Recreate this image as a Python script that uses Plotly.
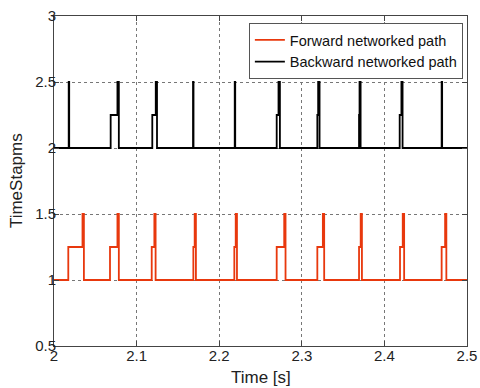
import plotly.graph_objects as go

# step points (time [s], timestamp value)
fwd_t = [2.0, 2.0173, 2.0345, 2.0362, 2.0678, 2.0768, 2.0785, 2.1183, 2.1215, 2.1230,
         2.1687, 2.1703, 2.1718, 2.2183, 2.2200, 2.2215, 2.2696, 2.2787, 2.2803,
         2.3188, 2.3255, 2.3271, 2.3693, 2.3713, 2.3728, 2.4189, 2.4222, 2.4239,
         2.4693, 2.4735, 2.4750, 2.5]
fwd_y = [1, 1.25, 1.5, 1, 1.25, 1.5, 1, 1.25, 1.5, 1,
         1.25, 1.5, 1, 1.25, 1.5, 1, 1.25, 1.5, 1,
         1.25, 1.5, 1, 1.25, 1.5, 1, 1.25, 1.5, 1,
         1.25, 1.5, 1, 1]

bwd_t = [2.0, 2.0178, 2.0184, 2.0686, 2.0768, 2.0785, 2.1190, 2.1232, 2.1247,
         2.1683, 2.1689, 2.2188, 2.2194, 2.2696, 2.2718, 2.2735, 2.3188, 2.3198, 2.3215,
         2.3693, 2.3699, 2.3712, 2.4185, 2.4206, 2.4220, 2.4693, 2.4699, 2.5]
bwd_y = [2, 2.5, 2, 2.25, 2.5, 2, 2.25, 2.5, 2,
         2.5, 2, 2.5, 2, 2.25, 2.5, 2, 2.25, 2.5, 2,
         2.25, 2.5, 2, 2.25, 2.5, 2, 2.5, 2, 2]

x_ticks = [2, 2.1, 2.2, 2.3, 2.4, 2.5]
y_ticks = [0.5, 1, 1.5, 2, 2.5, 3]

fig = go.Figure()
fig.add_trace(go.Scatter(x=fwd_t, y=fwd_y, mode='lines', line_shape='hv',
                         line=dict(color='#e8380d', width=1.8), name='Forward networked path'))
fig.add_trace(go.Scatter(x=bwd_t, y=bwd_y, mode='lines', line_shape='hv',
                         line=dict(color='black', width=1.8), name='Backward networked path'))

axis_common = dict(showline=True, mirror='ticks', linecolor='#444', linewidth=1,
                   ticks='inside', ticklen=5, tickcolor='#444',
                   showgrid=True, gridcolor='#777', griddash='dot', gridwidth=1,
                   zeroline=False, automargin=False, ticklabeloverflow='allow',
                   tickfont=dict(size=15, color='#222'))

fig.update_xaxes(range=[2, 2.5], tickvals=x_ticks, ticktext=[str(v) for v in x_ticks],
                 ticklabelstandoff=-4, **axis_common)
fig.update_yaxes(range=[0.5, 3], tickvals=y_ticks, ticktext=[f'{v:g}' for v in y_ticks],
                 ticklabelstandoff=-6, **axis_common)

# axis titles
fig.add_annotation(text='Time [s]', xref='paper', yref='paper', x=0.5, y=-0.062,
                   xanchor='center', yanchor='top', showarrow=False,
                   font=dict(size=17, color='#222'))
fig.add_annotation(text='TimeStapms', xref='paper', yref='paper', x=-0.064, y=0.5,
                   xanchor='right', yanchor='middle', textangle=-90, showarrow=False,
                   font=dict(size=17, color='#222'))

fig.update_layout(
    width=480, height=388,
    margin=dict(l=54, r=13, t=16, b=42),
    paper_bgcolor='white', plot_bgcolor='white',
    font=dict(family='Liberation Sans, Arial, sans-serif'),
    legend=dict(x=0.99, y=0.979, xanchor='right', yanchor='top',
                bgcolor='white', bordercolor='#555', borderwidth=1,
                font=dict(size=14.5, color='#111'), tracegroupgap=0,
                itemwidth=30),
    showlegend=True,
)

# drop the default 8px page margin so the figure fills the window
fig.write_html("out.html", config={'displayModeBar': False},
               post_script="document.body.style.margin='0';")
